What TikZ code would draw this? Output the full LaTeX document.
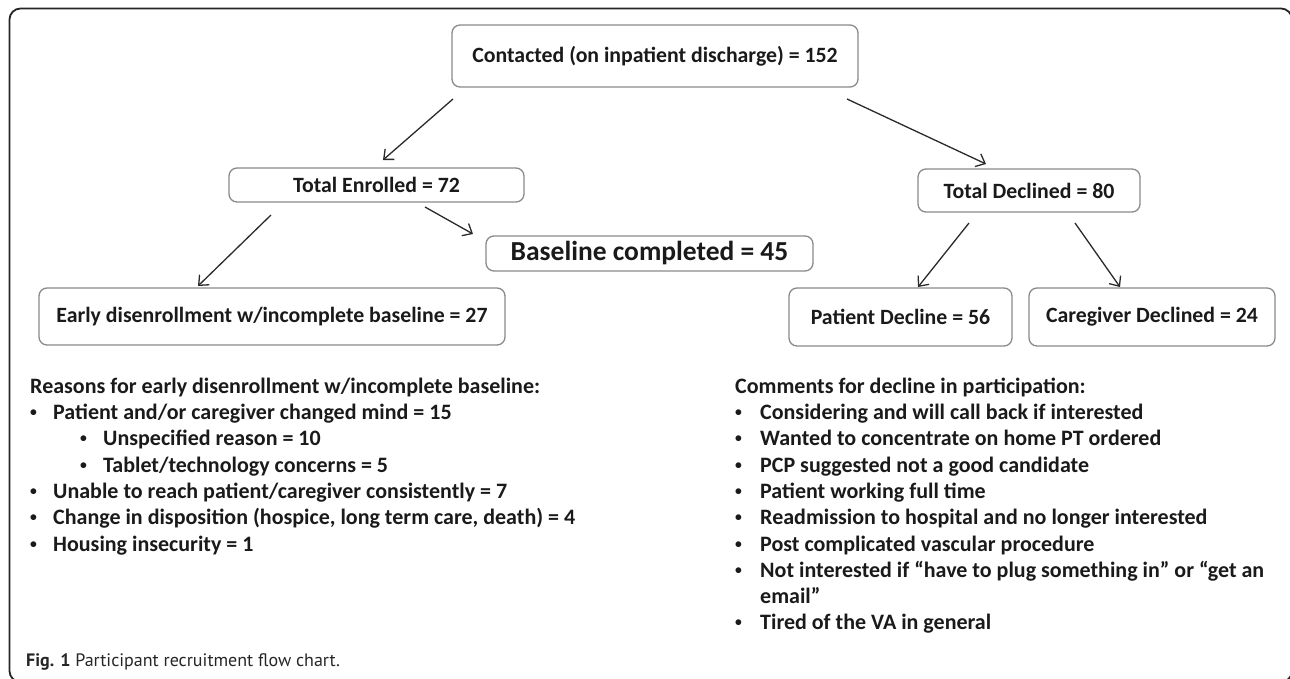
\documentclass[tikz,border=0pt]{standalone}
\usepackage{fontspec}
\setmainfont{Carlito}
\newfontfamily\capfont{PT Sans}
\usetikzlibrary{arrows.meta}
\definecolor{boxgray}{HTML}{8A8A8A}
\definecolor{ink}{HTML}{1A1A1A}
\definecolor{arrowgray}{HTML}{2A2A2A}
\newcommand{\smallbul}{\raisebox{0.12em}{\scalebox{0.62}{\textbullet}}}
\tikzset{
  flowbox/.style={draw=boxgray, line width=1.3pt, rounded corners=8pt, fill=white, text=ink,
    font=\fontsize{21.8}{26}\selectfont\bfseries, inner sep=0pt},
  arr/.style={draw=arrowgray, line width=1.3pt, -{Straight Barb[length=8pt,width=14pt,line width=1.3pt]}},
  listtext/.style={anchor=base west, inner sep=0pt, text=ink, font=\fontsize{22}{26}\selectfont\bfseries},
}
\begin{document}
\begin{tikzpicture}[x=1pt,y=-1pt]
\useasboundingbox (0,0) rectangle (1290,679);
\begin{scope}
  \clip (0,0) rectangle (1290,679);
  \draw[line width=1.8pt, draw=black!85, rounded corners=11pt] (9.5,8.5) rectangle (1292,682);
\end{scope}

% boxes
\node[flowbox, minimum width=406pt, minimum height=62pt] (contacted) at (655,56) {Contacted (on inpatient discharge) = 152};
\node[flowbox, minimum width=295pt, minimum height=34pt] (enrolled) at (376.5,185) {Total Enrolled = 72};
\node[flowbox, minimum width=222pt, minimum height=43pt] (declined) at (1029,190.5) {Total Declined = 80};
\node[flowbox, minimum width=327pt, minimum height=35pt, font=\fontsize{27.5}{32}\selectfont\bfseries] (baseline) at (649.5,253.5) {Baseline completed = 45};
\node[flowbox, minimum width=466pt, minimum height=57pt] (early) at (272,316.5) {Early disenrollment w/incomplete baseline = 27};
\node[flowbox, minimum width=223pt, minimum height=58pt] (patient) at (900.5,317) {Patient Decline = 56};
\node[flowbox, minimum width=246pt, minimum height=58pt] (caregiver) at (1152,317) {Caregiver Declined = 24};

% arrow end points
\coordinate (a1s) at (453,99);   \coordinate (a1e) at (383,160);
\coordinate (a2s) at (847,99);   \coordinate (a2e) at (986,164);
\coordinate (a3s) at (271,215);  \coordinate (a3e) at (198,286);
\coordinate (a4s) at (425,207);  \coordinate (a4e) at (473,234);
\coordinate (a5s) at (969,223);  \coordinate (a5e) at (918,287);
\coordinate (a6s) at (1075,223); \coordinate (a6e) at (1120,287);
\draw[arr] (a1s) -- (a1e);
\draw[arr] (a2s) -- (a2e);
\draw[arr] (a3s) -- (a3e);
\draw[arr] (a4s) -- (a4e);
\draw[arr] (a5s) -- (a5e);
\draw[arr] (a6s) -- (a6e);

% left list
\node[listtext] (lhead) at (30,393) {Reasons for early disenrollment w/incomplete baseline:};
\node[listtext] (lb1) at (30,419) {\smallbul};
\node[listtext] (lt1) at (53,419) {Patient and/or caregiver changed mind = 15};
\node[listtext] (lb2) at (80,445) {\smallbul};
\node[listtext] (lt2) at (103,445) {Unspecified reason = 10};
\node[listtext] (lb3) at (80,472) {\smallbul};
\node[listtext] (lt3) at (103,472) {Tablet/technology concerns = 5};
\node[listtext] (lb4) at (30,498) {\smallbul};
\node[listtext] (lt4) at (53,498) {Unable to reach patient/caregiver consistently = 7};
\node[listtext] (lb5) at (30,524) {\smallbul};
\node[listtext] (lt5) at (53,524) {Change in disposition (hospice, long term care, death) = 4};
\node[listtext] (lb6) at (30,551) {\smallbul};
\node[listtext] (lt6) at (53,551) {Housing insecurity = 1};

% right list
\node[listtext] (rhead) at (735,393) {Comments for decline in participation:};
\node[listtext] (rb1) at (735,419) {\smallbul};
\node[listtext] (rt1) at (760,419) {Considering and will call back if interested};
\node[listtext] (rb2) at (735,445) {\smallbul};
\node[listtext] (rt2) at (760,445) {Wanted to concentrate on home PT ordered};
\node[listtext] (rb3) at (735,472) {\smallbul};
\node[listtext] (rt3) at (760,472) {PCP suggested not a good candidate};
\node[listtext] (rb4) at (735,498) {\smallbul};
\node[listtext] (rt4) at (760,498) {Patient working full time};
\node[listtext] (rb5) at (735,524) {\smallbul};
\node[listtext] (rt5) at (760,524) {Readmission to hospital and no longer interested};
\node[listtext] (rb6) at (735,551) {\smallbul};
\node[listtext] (rt6) at (760,551) {Post complicated vascular procedure};
\node[listtext] (rb7) at (735,577) {\smallbul};
\node[listtext] (rt7) at (760,577) {Not interested if “have to plug something in” or “get an};
\node[listtext] (rt7b) at (760,603) {email”};
\node[listtext] (rb8) at (735,629) {\smallbul};
\node[listtext] (rt8) at (760,629) {Tired of the VA in general};

% caption
\node[anchor=base west, inner sep=0pt, text=black!85, font=\capfont\fontsize{18}{22}\selectfont] (caption) at (26,666) {\textbf{Fig. 1} Participant recruitment flow chart.};
\end{tikzpicture}
\end{document}
